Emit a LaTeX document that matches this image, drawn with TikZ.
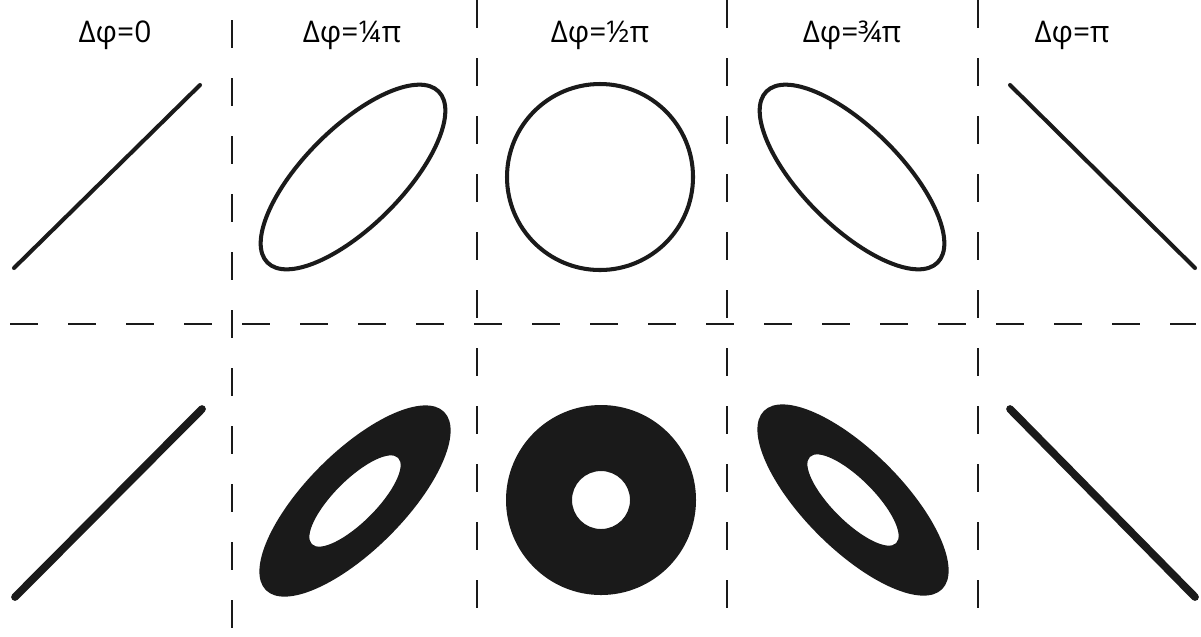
\documentclass[tikz,border=0pt]{standalone}
\usepackage{fontspec}
\setmainfont{Open Sans}
\usepackage{tikz}
\usetikzlibrary{positioning, calc}
\definecolor{inkdark}{HTML}{1A1A1A}

\begin{document}
\begin{tikzpicture}[
    x=0.1mm, y=0.1mm,
    phaselbl/.style={font=\fontsize{8.5}{10}\selectfont, inner sep=0pt, anchor=base},
    sepline/.style={draw=inkdark, line width=0.55pt, dash pattern=on 2.8mm off 3mm},
    orbit/.style={draw=inkdark, line width=1.15pt},
    beam/.style={draw=inkdark, line width=2.2pt, line cap=round},
    blob/.style={fill=inkdark, even odd rule}
]
\useasboundingbox (0,0) rectangle (1201,636);

% panel dividers
\foreach \xs/\ys in {232/616, 477/636, 727/636, 978/636}
    \draw[sepline] (\xs,\ys) -- (\xs,0);
\draw[sepline] (10,312) -- (1196,312);

% headings
\node[phaselbl] (lbl0) at (115,594)  {Δφ=0};
\node[phaselbl] (lbl1) at (352,594)  {Δφ=¼π};
\node[phaselbl] (lbl2) at (600,594)  {Δφ=½π};
\node[phaselbl] (lbl3) at (852,594)  {Δφ=¾π};
\node[phaselbl] (lbl4) at (1072,594) {Δφ=π};

% upper row: traces
\coordinate (up1) at (353,459);
\coordinate (up2) at (600,459);
\coordinate (up3) at (852,459);
\draw[orbit, line cap=round] (14,368) -- (200,551);
\draw[orbit] (up1) circle[x radius=121, y radius=49, rotate=45];
\draw[orbit] (up2) circle[radius=93];
\draw[orbit] (up3) circle[x radius=121, y radius=49, rotate=-45];
\draw[orbit, line cap=round] (1010,551) -- (1195,368);

% lower row: filled patterns
\coordinate (lo1) at (355,135);
\coordinate (lo2) at (601,136);
\coordinate (lo3) at (853,136);
\draw[beam] (15,39) -- (202,227);
\fill[blob] (lo1) circle[x radius=126, y radius=49, rotate=45]
            (lo1) circle[x radius=61, y radius=21, rotate=45];
\fill[blob] (lo2) circle[radius=95] (lo2) circle[radius=29];
\fill[blob] (lo3) circle[x radius=126, y radius=49, rotate=-45]
            (lo3) circle[x radius=61, y radius=21, rotate=-45];
\draw[beam] (1010,227) -- (1195,39);
\end{tikzpicture}
\end{document}
